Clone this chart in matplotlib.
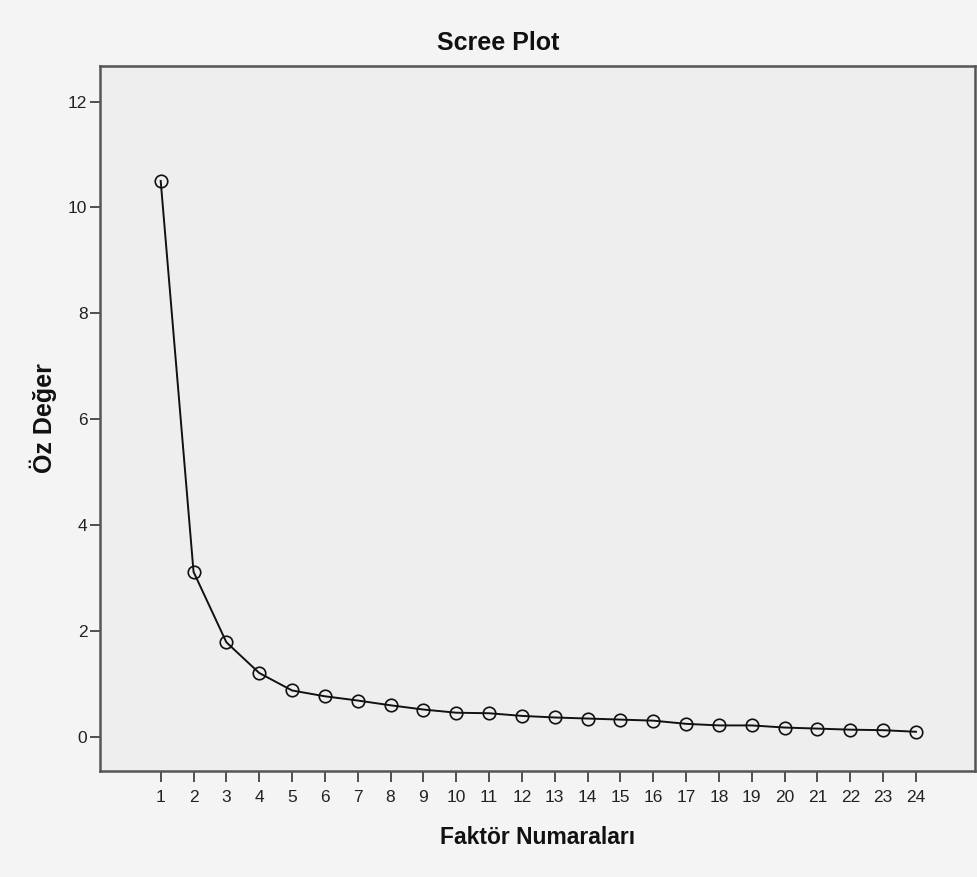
import matplotlib
matplotlib.use("Agg")
import matplotlib.pyplot as plt
from matplotlib import font_manager

# scree plot data
factors = list(range(1, 25))
eigenvalues = [10.50, 3.12, 1.79, 1.21, 0.88, 0.77, 0.69, 0.60, 0.52, 0.46,
               0.45, 0.40, 0.37, 0.35, 0.33, 0.31, 0.25, 0.22, 0.22, 0.18,
               0.16, 0.14, 0.13, 0.10]
y_ticks = [0, 2, 4, 6, 8, 10, 12]

title = "Scree Plot"
x_label = "Faktör Numaraları"
y_label = "Öz Değer"

names = {f.name for f in font_manager.fontManager.ttflist}
narrow = "Liberation Sans Narrow" if "Liberation Sans Narrow" in names else "Liberation Sans"
fam = [narrow, "DejaVu Sans"]

fig = plt.figure(figsize=(9.78, 8.77), dpi=100, facecolor="#f4f4f4")
ax = fig.add_axes([0.1022, 0.1209, 0.8948, 0.8038], facecolor="#eeeeee")

ax.plot(factors, eigenvalues, color="#111111", lw=1.4, marker="o",
        markersize=9, markerfacecolor="none", markeredgecolor="#111111",
        markeredgewidth=1.2, zorder=3)

ax.set_xlim(-0.85, 25.8)
ax.set_ylim(-0.64, 12.67)
ax.set_xticks(factors)
ax.set_yticks(y_ticks)

for side in ["left", "right", "top", "bottom"]:
    ax.spines[side].set_color("#555555")
    ax.spines[side].set_linewidth(1.8)

ax.tick_params(axis="x", direction="out", length=8, width=1.2, color="#333333",
               pad=6, labelsize=12.5, labelcolor="#222222")
ax.tick_params(axis="y", direction="out", length=7, width=1.2, color="#333333",
               pad=2, labelsize=12.5, labelcolor="#222222")
for lab in ax.get_xticklabels() + ax.get_yticklabels():
    lab.set_family(fam)

fig.text(498 / 978, 1 - 43 / 877, title, ha="center", va="center",
         fontsize=18, fontweight="bold", family=fam, color="#111111")
fig.text(538 / 978, 1 - 837 / 877, x_label, ha="center", va="center",
         fontsize=16.5, fontweight="bold", family=fam, color="#111111")
fig.text(43 / 978, 1 - 418 / 877, y_label, ha="center", va="center",
         rotation=90, fontsize=18, fontweight="bold", family=fam, color="#111111")

fig.savefig("out.png", dpi=100, facecolor=fig.get_facecolor())
